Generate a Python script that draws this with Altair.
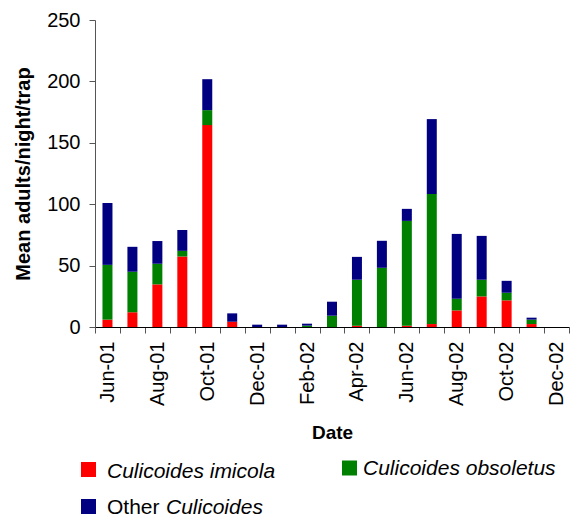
import json
import altair as alt
import pandas as pd

months = ["Jun-01", "Jul-01", "Aug-01", "Sep-01", "Oct-01", "Nov-01", "Dec-01",
          "Jan-02", "Feb-02", "Mar-02", "Apr-02", "May-02", "Jun-02", "Jul-02",
          "Aug-02", "Sep-02", "Oct-02", "Nov-02", "Dec-02"]
imicola = [6, 12, 34.7, 57.4, 164.4, 4.3, 0, 0, 0, 0, 1, 0, 1, 2.4, 13.5, 24.9, 21.7, 2.4, 0]
obsoletus = [44.6, 33, 16.8, 4.6, 12.2, 0, 0, 0, 1.1, 9.2, 37.5, 48.2, 85.4, 105.9, 9.5, 13.6, 6.2, 3.6, 0]
other = [50.4, 20.3, 18.5, 17, 25.2, 6.8, 1.9, 1.9, 1.6, 11.4, 18.6, 22, 9.8, 61, 52.8, 35.7, 9.7, 1.6, 0]

species = ["Culicoides imicola", "Culicoides obsoletus", "Other Culicoides"]
colors = ["#FF0000", "#008000", "#000080"]
y_ticks = [0, 50, 100, 150, 200, 250]

FONT = "Liberation Sans"

df = pd.DataFrame({"Date": months, species[0]: imicola, species[1]: obsoletus, species[2]: other})

bars = (
    alt.Chart(df)
    .transform_fold(species, as_=["Species", "Value"])
    .transform_calculate(ord=f"indexof({json.dumps(species)}, datum.Species)")
    .mark_bar(size=10)
    .encode(
        x=alt.X("Date:N", sort=months,
                scale=alt.Scale(paddingInner=0, paddingOuter=0),
                axis=alt.Axis(title="Date", labelAngle=-90, tickBand="extent",
                              labelExpr="test(regexp('^(Jun|Aug|Oct|Dec|Feb|Apr)'), datum.value) ? datum.label : ''",
                              labelFont=FONT, labelFontSize=20, labelColor="black",
                              labelPadding=8, tickSize=6, tickColor="#555",
                              domainColor="black", titleFont=FONT, titleFontSize=19,
                              titleColor="black", titlePadding=18)),
        y=alt.Y("Value:Q", stack="zero",
                scale=alt.Scale(domain=[0, 250], nice=False),
                axis=alt.Axis(values=y_ticks, grid=False, title="Mean adults/night/trap",
                              labelFont=FONT, labelFontSize=20, labelColor="black",
                              labelPadding=9, tickSize=6, tickColor="#555",
                              domainColor="#555", titleFont=FONT, titleFontSize=20,
                              titleColor="black", titlePadding=13)),
        color=alt.Color("Species:N", scale=alt.Scale(domain=species, range=colors), legend=None),
        order=alt.Order("ord:Q", sort="ascending"),
    )
)


def sq(i, x, y):
    return alt.Chart(pd.DataFrame({"label": [species[i]]})).mark_square(
        size=225, color=colors[i], opacity=1, filled=True
    ).encode(x=alt.value(x), y=alt.value(y))


def txt(label, x, y, style):
    return alt.Chart(pd.DataFrame({"label": [label]})).mark_text(
        align="left", baseline="alphabetic", font=FONT, fontSize=21,
        fontStyle=style, color="black"
    ).encode(x=alt.value(x), y=alt.value(y), text="label:N")


other_a, other_b = species[2].split(" ", 1)
legend_layers = [
    sq(0, -6.5, 449.5), txt(species[0], 12, 458, "italic"),
    sq(1, 254.5, 448), txt(species[1], 268, 455, "italic"),
    sq(2, -6.5, 486.5), txt(other_a, 12, 494, "normal"), txt(other_b, 71, 494, "italic"),
]

chart = alt.layer(bars, *legend_layers).properties(
    width=474, height=307,
    autosize=alt.AutoSizeParams(type="none"),
    padding={"left": 87, "top": 12, "right": 9, "bottom": 200},
    background="white",
).configure_view(stroke=None)

chart.save("out.html", embed_options={"renderer": "svg", "actions": False})
